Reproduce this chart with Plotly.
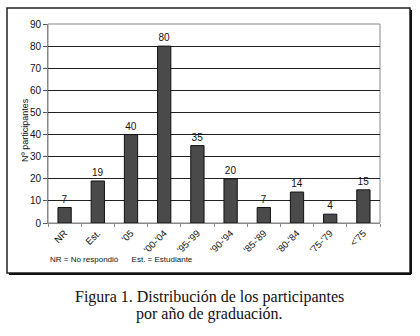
import plotly.graph_objects as go

categories = ["NR", "Est.", "'05", "'00-'04", "'95-'99", "'90-'94", "'85-'89", "'80-'84", "'75-'79", "<'75"]
values = [7, 19, 40, 80, 35, 20, 7, 14, 4, 15]
y_ticks = [0, 10, 20, 30, 40, 50, 60, 70, 80, 90]

W, H = 420, 336
L, R, T, B = 48, 40, 24, 113
pw, ph = W - L - R, H - T - B

def px_x(p):
    return (p - L) / pw

def px_y(p):
    return (H - B - p) / ph

fig = go.Figure()
fig.add_trace(go.Bar(
    x=categories, y=values, width=0.4,
    marker=dict(color="#4a4a4a", line=dict(color="#111111", width=1)),
    text=[str(v) for v in values], textposition="outside",
    textfont=dict(family="Liberation Sans, Arial", size=10, color="#111111"),
    cliponaxis=False,
))

fig.update_layout(
    width=W, height=H,
    margin=dict(l=L, r=R, t=T, b=B),
    paper_bgcolor="white", plot_bgcolor="white",
    showlegend=False,
    font=dict(family="Liberation Sans, Arial", size=9, color="#111111"),
)
fig.update_xaxes(
    type="category", tickangle=-45, tickson="boundaries",
    ticks="outside", ticklen=3, tickcolor="#888888",
    showline=True, linecolor="#888888", linewidth=1,
    tickfont=dict(size=9.5),
)
fig.update_yaxes(
    range=[0, 90], tickvals=y_ticks, ticks="outside", ticklen=4,
    tickcolor="#555555", showline=True, linecolor="#888888", linewidth=1,
    gridcolor="#222222", gridwidth=1, zeroline=False,
    tickfont=dict(size=10),
)
fig.add_shape(type="rect", xref="paper", yref="paper", x0=0, x1=1, y0=0, y1=1,
              line=dict(color="#888888", width=1), layer="below")
fig.add_shape(type="rect", xref="paper", yref="paper",
              x0=px_x(7), x1=px_x(410), y0=px_y(273), y1=px_y(8),
              line=dict(color="#222222", width=1.5))
fig.add_shape(type="line", xref="paper", yref="paper",
              x0=px_x(411), x1=px_x(411), y0=px_y(274), y1=px_y(10),
              line=dict(color="#111111", width=2))
fig.add_shape(type="line", xref="paper", yref="paper",
              x0=px_x(9), x1=px_x(411), y0=px_y(274), y1=px_y(274),
              line=dict(color="#111111", width=2))

fig.add_annotation(xref="paper", yref="paper", x=px_x(25), y=px_y(130),
                   xanchor="center", yanchor="middle", showarrow=False, textangle=-90,
                   text="Nº participantes", font=dict(size=9, color="#111111"))
fig.add_annotation(xref="paper", yref="paper", x=px_x(48), y=px_y(259),
                   xanchor="left", yanchor="middle", showarrow=False,
                   text="NR = No respondió      Est. = Estudiante",
                   font=dict(size=8, color="#111111"))
caption_font = dict(family="Liberation Serif, Times New Roman", size=16, color="#111111")
fig.add_annotation(xref="paper", yref="paper", x=px_x(209), y=px_y(297),
                   xanchor="center", yanchor="middle", showarrow=False,
                   text="Figura 1. Distribución de los participantes", font=caption_font)
fig.add_annotation(xref="paper", yref="paper", x=px_x(209), y=px_y(314),
                   xanchor="center", yanchor="middle", showarrow=False,
                   text="por año de graduación.", font=caption_font)

fig.write_html("out.html", config={"displayModeBar": False},
               post_script="document.body.style.margin='0';document.body.style.padding='0';")
